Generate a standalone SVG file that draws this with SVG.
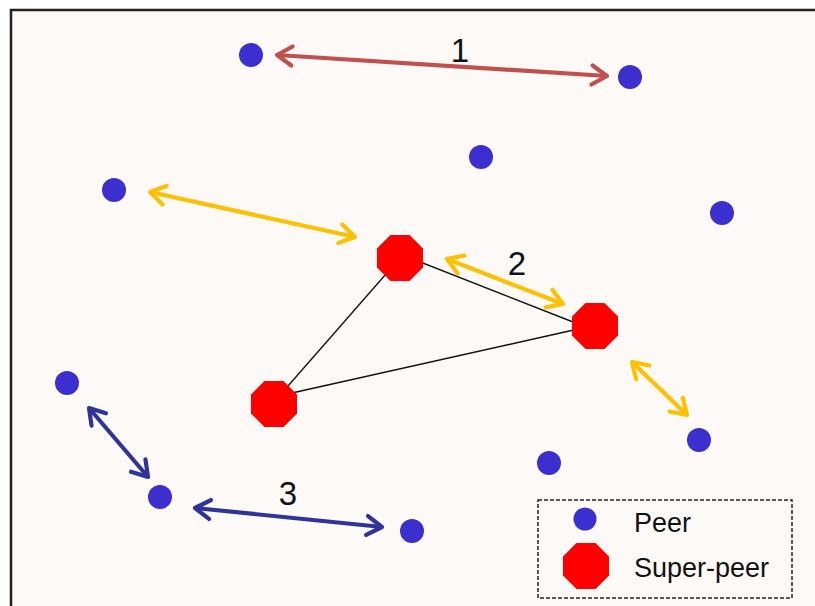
<svg xmlns="http://www.w3.org/2000/svg" xmlns:xlink="http://www.w3.org/1999/xlink" width="815" height="606" viewBox="0 0 815 606">
  <style>
    .peer { fill: #3b2fd0; }
    .super { fill: #ff0000; }
    .link { stroke: #111; stroke-width: 1.4; fill: none; }
    .arr { fill: none; stroke-width: 4.2; stroke-linecap: butt; }
    .red { stroke: #c0504d; marker-start: url(#hRed); marker-end: url(#hRed); }
    .yel { stroke: #ffc000; marker-start: url(#hYel); marker-end: url(#hYel); }
    .blu { stroke: #30339a; marker-start: url(#hBlu); marker-end: url(#hBlu); }
    .num { font-family: "Liberation Sans", Arial, sans-serif; font-size: 33px; fill: #111; }
    .leg { font-family: "Liberation Sans", Arial, sans-serif; font-size: 27px; fill: #111; }
  </style>
  <defs>
    <polygon id="oct" points="23,-9.5 23,9.5 9.5,23 -9.5,23 -23,9.5 -23,-9.5 -9.5,-23 9.5,-23"/>
    <marker id="hRed" markerUnits="userSpaceOnUse" viewBox="-20 -12 24 24" markerWidth="24" markerHeight="24" refX="0" refY="0" orient="auto-start-reverse" overflow="visible">
      <path d="M-15,-9.5 L0,0 L-15,9.5" fill="none" stroke="#c0504d" stroke-width="4.2" stroke-linecap="round" stroke-linejoin="round"/>
    </marker>
    <marker id="hYel" markerUnits="userSpaceOnUse" viewBox="-20 -12 24 24" markerWidth="24" markerHeight="24" refX="0" refY="0" orient="auto-start-reverse" overflow="visible">
      <path d="M-15,-9.5 L0,0 L-15,9.5" fill="none" stroke="#ffc000" stroke-width="4.2" stroke-linecap="round" stroke-linejoin="round"/>
    </marker>
    <marker id="hBlu" markerUnits="userSpaceOnUse" viewBox="-20 -12 24 24" markerWidth="24" markerHeight="24" refX="0" refY="0" orient="auto-start-reverse" overflow="visible">
      <path d="M-15,-9.5 L0,0 L-15,9.5" fill="none" stroke="#30339a" stroke-width="4.2" stroke-linecap="round" stroke-linejoin="round"/>
    </marker>
  </defs>

  <!-- page and frame -->
  <rect x="0" y="0" width="815" height="606" fill="#ffffff"/>
  <rect x="11" y="10" width="900" height="700" fill="#fcf9f7" stroke="#222" stroke-width="2.5"/>

  <!-- overlay links between super-peers -->
  <g id="links">
    <line class="link" x1="400" y1="254" x2="596" y2="331"/>
    <line class="link" x1="400" y1="258" x2="274" y2="402"/>
    <line class="link" x1="274" y1="397" x2="596" y2="325"/>
  </g>

  <!-- peers -->
  <g id="peer-1"><circle class="peer" cx="251" cy="55" r="12"/></g>
  <g id="peer-2"><circle class="peer" cx="630" cy="77" r="12"/></g>
  <g id="peer-3"><circle class="peer" cx="481" cy="157" r="12"/></g>
  <g id="peer-4"><circle class="peer" cx="114" cy="190" r="12"/></g>
  <g id="peer-5"><circle class="peer" cx="722" cy="213" r="12"/></g>
  <g id="peer-6"><circle class="peer" cx="67" cy="383" r="12"/></g>
  <g id="peer-7"><circle class="peer" cx="699" cy="440" r="12"/></g>
  <g id="peer-8"><circle class="peer" cx="549" cy="463" r="12"/></g>
  <g id="peer-9"><circle class="peer" cx="160" cy="497" r="12"/></g>
  <g id="peer-10"><circle class="peer" cx="412" cy="531" r="12"/></g>

  <!-- super-peers -->
  <g id="super-1"><use xlink:href="#oct" href="#oct" class="super" x="400" y="258"/></g>
  <g id="super-2"><use xlink:href="#oct" href="#oct" class="super" x="595" y="326"/></g>
  <g id="super-3"><use xlink:href="#oct" href="#oct" class="super" x="274" y="404"/></g>

  <!-- connectors -->
  <g id="connectors">
    <line class="arr red" x1="277" y1="55" x2="607" y2="76"/>
    <line class="arr yel" x1="150" y1="192" x2="355" y2="237"/>
    <line class="arr yel" x1="447" y1="259" x2="563" y2="304"/>
    <line class="arr yel" x1="632" y1="362" x2="687" y2="415"/>
    <line class="arr blu" x1="89" y1="408" x2="148" y2="477"/>
    <line class="arr blu" x1="195" y1="508" x2="382" y2="527"/>
  </g>

  <!-- connector labels -->
  <g id="labels">
    <text class="num" x="460" y="62" text-anchor="middle">1</text>
    <text class="num" x="517" y="275" text-anchor="middle">2</text>
    <text class="num" x="288" y="505" text-anchor="middle">3</text>
  </g>

  <!-- legend -->
  <g id="legend">
    <rect x="538" y="500" width="254" height="98" fill="none" stroke="#222" stroke-width="1.5" stroke-dasharray="4 2"/>
    <circle class="peer" cx="585" cy="519" r="11.5"/>
    <use xlink:href="#oct" href="#oct" class="super" x="586" y="566"/>
    <text class="leg" x="634" y="532">Peer</text>
    <text class="leg" x="634" y="577">Super-peer</text>
  </g>
</svg>
